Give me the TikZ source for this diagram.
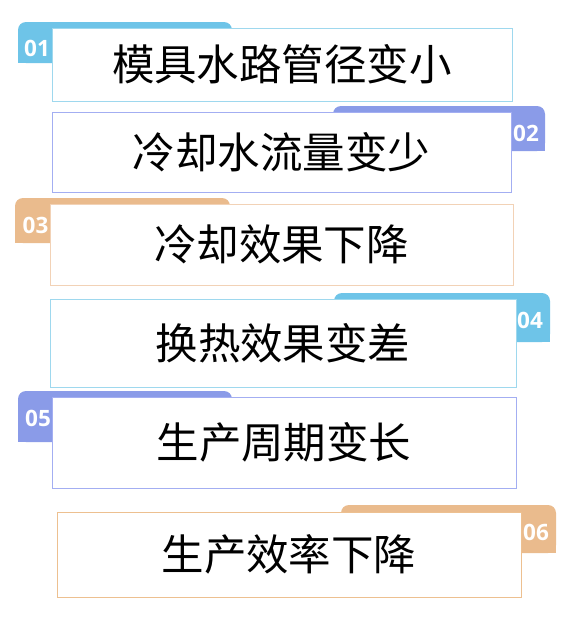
\documentclass[tikz,border=0pt]{standalone}
\usepackage{fontspec}
\newfontfamily\cjk{Noto Sans CJK SC}
\newfontfamily\numf{Open Sans}
\definecolor{blueTab}{HTML}{6EC4E8}
\definecolor{blueLine}{HTML}{9ED8EE}
\definecolor{purpTab}{HTML}{8A9BE8}
\definecolor{purpLine}{HTML}{A3AEF2}
\definecolor{orTab}{HTML}{EABB8D}
\definecolor{orLine}{HTML}{F2D2B6}
\definecolor{orLineB}{HTML}{EDC090}
\tikzset{
  itembox/.style={draw=#1, fill=white, line width=0.9pt, rectangle, inner sep=0pt,
    font=\cjk\fontsize{42.5}{44}\selectfont, text=black},
  numlabel/.style={font=\numf\bfseries\fontsize{22.5}{24}\selectfont, text=white, inner sep=0pt}
}
\newcommand{\tabshape}[5]{% x1,y1,x2,y2,color
  \fill[#5, rounded corners=8pt] (#1,#2) rectangle (#3,#4);
  \fill[#5] (#1,#2+12) rectangle (#3,#4);
}
\begin{document}
\begin{tikzpicture}[x=1pt,y=-1pt]
\useasboundingbox (0,0) rectangle (567,625);
\fill[white] (0,0) rectangle (567,625);
% 01
\tabshape{18}{22}{232}{63}{blueTab}
\node[itembox=blueLine, minimum width=460pt, minimum height=73pt] (b1) at (282,64.5) {模具水路管径变小};
\node[numlabel] (n1) at (37,48.5) {01};
% 02
\tabshape{333}{106}{545}{151}{purpTab}
\node[itembox=purpLine, minimum width=459pt, minimum height=80pt] (b2) at (281.5,152) {冷却水流量变少};
\node[numlabel] (n2) at (526,133) {02};
% 03
\tabshape{15}{198}{230}{243}{orTab}
\node[itembox=orLine, minimum width=463pt, minimum height=81pt] (b3) at (281.5,244.5) {冷却效果下降};
\node[numlabel] (n3) at (35.5,225) {03};
% 04
\tabshape{334}{293}{550}{342}{blueTab}
\node[itembox=blueLine, minimum width=466pt, minimum height=88pt] (b4) at (283,343) {换热效果变差};
\node[numlabel] (n4) at (530,320) {04};
% 05
\tabshape{18}{391}{232}{442}{purpTab}
\node[itembox=purpLine, minimum width=464pt, minimum height=91pt] (b5) at (284,442.5) {生产周期变长};
\node[numlabel] (n5) at (38,418) {05};
% 06
\tabshape{341}{505}{556}{553}{orTab}
\node[itembox=orLineB, minimum width=464pt, minimum height=85pt] (b6) at (289,554.5) {生产效率下降};
\node[numlabel] (n6) at (536,532) {06};
\end{tikzpicture}
\end{document}
